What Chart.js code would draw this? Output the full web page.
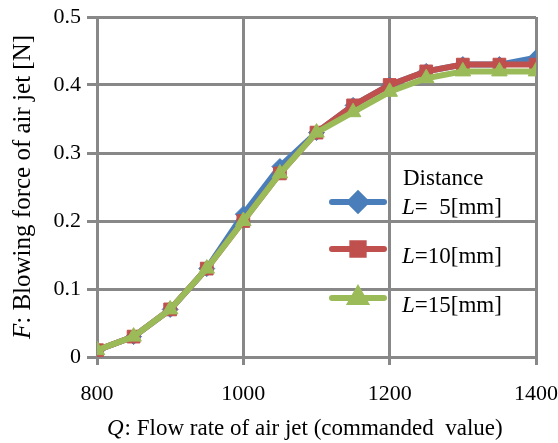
<!DOCTYPE html>
<html>
<head>
<meta charset="utf-8">
<script src="https://cdn.jsdelivr.net/npm/chart.js@4.4.1/dist/chart.umd.min.js"></script>
<style>
html,body{margin:0;padding:0;background:#fff;}
#wrap{width:558px;height:443px;position:relative;}
</style>
</head>
<body>
<div id="wrap"><canvas id="c" width="558" height="443"></canvas></div>
<script>
// ---- data ----
const flowRate = [800, 850, 900, 950, 1000, 1050, 1100, 1150, 1200, 1250, 1300, 1350, 1400];
const forceL5  = [0.01, 0.03, 0.07, 0.13, 0.21, 0.28, 0.33, 0.37, 0.40, 0.42, 0.43, 0.43, 0.44];
const forceL10 = [0.01, 0.03, 0.07, 0.13, 0.20, 0.27, 0.33, 0.37, 0.40, 0.42, 0.43, 0.43, 0.43];
const forceL15 = [0.01, 0.03, 0.07, 0.13, 0.20, 0.27, 0.33, 0.36, 0.39, 0.41, 0.42, 0.42, 0.42];
const seriesNames = ['L=  5[mm]', 'L=10[mm]', 'L=15[mm]'];
const legendTitle = 'Distance';
const xTitleItalic = 'Q';
const xTitleRest = ': Flow rate of air jet (commanded  value)';
const yTitleItalic = 'F';
const yTitleRest = ': Blowing force of air jet [N]';

const colors = ['#4A7EBB', '#C0504D', '#9BBB59'];
const styles = ['rectRot', 'rect', 'triangle'];
const radii = [8, 9, 9];
const FAMILY = "'Liberation Serif', serif";
const GRID = '#888888';

Chart.defaults.font.family = FAMILY;

function mkData(arr){ return flowRate.map((x,i)=>({x:x, y:arr[i]})); }
const all = [forceL5, forceL10, forceL15];

const datasets = all.map((arr,i)=>({
  label: seriesNames[i],
  data: mkData(arr),
  borderColor: colors[i],
  backgroundColor: colors[i],
  borderWidth: 6,
  pointStyle: styles[i],
  pointRadius: radii[i],
  pointBorderWidth: 1,
  pointBorderColor: colors[i],
  pointBackgroundColor: colors[i],
  tension: 0,
  order: 3 - i
}));

const overlay = {
  id: 'overlay',
  afterDraw(chart){
    const ctx = chart.ctx;
    ctx.save();
    ctx.fillStyle = '#000';
    ctx.textBaseline = 'alphabetic';
    ctx.textAlign = 'left';
    // x title
    ctx.font = 'italic 23px ' + FAMILY;
    const wI = ctx.measureText(xTitleItalic).width;
    ctx.fillText(xTitleItalic, 107, 435);
    ctx.font = '23px ' + FAMILY;
    ctx.fillText(xTitleRest, 107 + wI + 1, 435);
    // y title
    ctx.save();
    ctx.translate(30, 187);
    ctx.rotate(-Math.PI/2);
    ctx.font = 'italic 25px ' + FAMILY;
    const yI = ctx.measureText(yTitleItalic).width;
    ctx.font = '25px ' + FAMILY;
    const yR = ctx.measureText(yTitleRest).width;
    let y0 = -(yI + yR)/2;
    ctx.font = 'italic 25px ' + FAMILY;
    ctx.fillText(yTitleItalic, y0, 0);
    ctx.font = '25px ' + FAMILY;
    ctx.fillText(yTitleRest, y0 + yI, 0);
    ctx.restore();
    // legend
    ctx.font = '23px ' + FAMILY;
    ctx.fillText(legendTitle, 403, 185);
    const lineY = [202, 249, 298];
    const textY = [214, 263, 312];
    for (let i = 0; i < 3; i++){
      ctx.strokeStyle = colors[i];
      ctx.lineWidth = 6;
      ctx.lineCap = 'round';
      ctx.beginPath();
      ctx.moveTo(332, lineY[i]);
      ctx.lineTo(384, lineY[i]);
      ctx.stroke();
      ctx.fillStyle = colors[i];
      Chart.helpers.drawPoint(ctx, {pointStyle: styles[i], radius: 8, rotation: 0, borderWidth: 1}, 358, lineY[i]);
      ctx.fill();
      ctx.fillStyle = '#000';
      const name = seriesNames[i];
      ctx.font = 'italic 23px ' + FAMILY;
      ctx.fillText(name.charAt(0), 402, textY[i]);
      const wl = ctx.measureText(name.charAt(0)).width;
      ctx.font = '23px ' + FAMILY;
      ctx.fillText(name.slice(1), 402 + wl, textY[i]);
    }
    ctx.restore();
  }
};

function build(){
  const chart = new Chart(document.getElementById('c'), {
    type: 'line',
    data: { datasets },
    options: {
      responsive: false,
      animation: false,
      devicePixelRatio: 1,
      layout: { padding: { left: 0, right: 22, top: 17, bottom: 0 } },
      plugins: { legend: { display: false }, tooltip: { enabled: false } },
      scales: {
        x: {
          type: 'linear',
          min: 800, max: 1400,
          ticks: { stepSize: 200, color: '#000', font: { family: FAMILY, size: 22 }, padding: 16, maxRotation: 0,
                   callback: v => String(v) },
          grid: { color: GRID, lineWidth: 3, tickLength: 8, tickColor: GRID },
          border: { color: GRID, width: 3 },
          afterFit(s){ s.height = 86; s.paddingRight = 0; s.paddingLeft = 0; }
        },
        y: {
          min: 0, max: 0.5,
          ticks: { stepSize: 0.1, color: '#000', font: { family: FAMILY, size: 22 }, padding: 6,
                   callback: v => String(Math.round(v * 10) / 10) },
          grid: { color: GRID, lineWidth: 3, tickLength: 10, tickColor: GRID },
          border: { color: GRID, width: 3 },
          afterFit(s){ s.width = 97; s.paddingTop = 0; s.paddingBottom = 0; }
        }
      }
    },
    plugins: [overlay]
  });
  setTimeout(() => chart.update('none'), 50);
}

// warm up the serif font before drawing
(function(){
  const tmp = document.createElement('canvas').getContext('2d');
  tmp.font = '22px ' + FAMILY; tmp.measureText('0123456789');
  tmp.font = 'italic 23px ' + FAMILY; tmp.measureText('QFL');
  const p = (document.fonts && document.fonts.load)
    ? Promise.all([document.fonts.load('22px ' + FAMILY), document.fonts.load('italic 23px ' + FAMILY)]).catch(()=>{})
    : Promise.resolve();
  p.then(build, build);
})();
</script>
</body>
</html>
